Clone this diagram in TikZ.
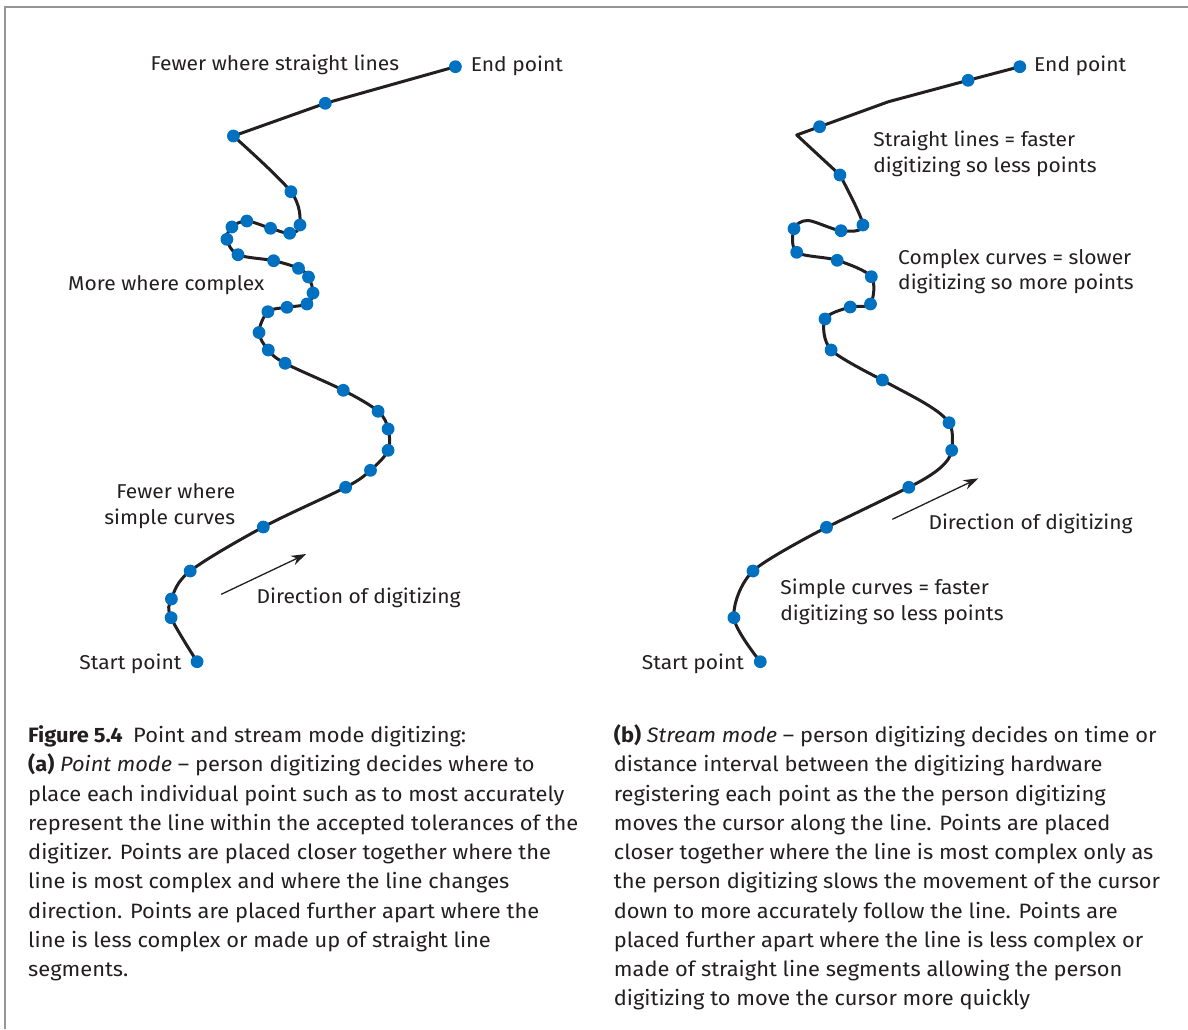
\documentclass[tikz,border=0pt]{standalone}
\usepackage{fontspec}
\setmainfont{Fira Sans}[FakeStretch=1.05]
\usetikzlibrary{arrows.meta}
\definecolor{dotblue}{RGB}{0,112,192}
\definecolor{ink}{RGB}{35,31,32}
\definecolor{frame}{RGB}{150,150,150}
\tikzset{
  curve/.style={draw=ink, line width=3pt, line join=round, line cap=round},
  dirarrow/.style={draw=ink, line width=1.3pt, -{Stealth[length=15pt,width=10pt]}},
  lbl/.style={anchor=base west, inner sep=0pt, text=ink, font=\fontsize{20}{26}\selectfont},
  lblr/.style={anchor=base east, inner sep=0pt, text=ink, font=\fontsize{20}{26}\selectfont},
  capt/.style={anchor=base west, inner sep=0pt, text=ink, font=\fontsize{20.8}{29.25}\selectfont},
}
\newcommand{\dotat}[1]{\fill[dotblue] (#1) circle (6.4pt);}
\begin{document}
\begin{tikzpicture}[x=1pt,y=-1pt]
\useasboundingbox (0,0) rectangle (1188,1029);
% frame
\draw[frame, line width=2pt] (4.5,1029) -- (4.5,6.5) -- (1188,6.5);

% ---- left curve (point mode)
\coordinate (a1) at (197.1,661.7);
\coordinate (a2) at (171.1,617.7);
\coordinate (a3) at (171.4,599);
\coordinate (a4) at (190.2,571);
\coordinate (a5) at (263.3,527);
\coordinate (a6) at (345.6,487.3);
\coordinate (a7) at (370.5,470.3);
\coordinate (a8) at (388.1,450.3);
\coordinate (a9) at (388.1,429);
\coordinate (a10) at (378.1,411.3);
\coordinate (a11) at (343.3,390.3);
\coordinate (a12) at (285.1,363.3);
\coordinate (a13) at (268.3,350);
\coordinate (a14) at (259,332.5);
\coordinate (a15) at (267.9,311.7);
\coordinate (a16) at (287,307.3);
\coordinate (a17) at (306.9,304);
\coordinate (a18) at (313,293);
\coordinate (a19) at (308.5,277);
\coordinate (a20) at (298.5,268.3);
\coordinate (a21) at (273.6,260.7);
\coordinate (a22) at (238,254.7);
\coordinate (a23) at (226.9,239.3);
\coordinate (a24) at (231.9,227);
\coordinate (a25) at (246.8,221);
\coordinate (a26) at (270.6,228.3);
\coordinate (a27) at (289.7,233.3);
\coordinate (a28) at (300,225);
\coordinate (a29) at (290.9,191.7);
\coordinate (a30) at (233.4,136);
\coordinate (a31) at (325.3,103.3);
\coordinate (a32) at (455.4,66.7);

\draw[curve] plot[smooth, tension=0.55] coordinates {(a1) (a2) (a3) (a4) (a5) (a6) (a7) (a8) (a9) (a10) (a11) (a12) (a13) (a14) (a15) (a16) (a17) (a18) (a19) (a20) (a21) (a22) (a23) (a24) (a25) (a26) (a27) (a28) (a29) (a30)} -- (a31) -- (a32);
\foreach \i in {1,...,32} {\dotat{a\i}}

% ---- right curve (stream mode)
\coordinate (b1) at (760.3,661.7);
\coordinate (b2) at (733.9,617.7);
\coordinate (b3) at (753,571);
\coordinate (b4) at (826.5,527.3);
\coordinate (b5) at (908.8,487.3);
\coordinate (b6) at (951.7,450.3);
\coordinate (b7) at (949,422.7);
\coordinate (b8) at (882.4,380);
\coordinate (b9) at (831.1,350);
\coordinate (b10) at (825,319);
\coordinate (b11) at (850.2,307);
\coordinate (b12) at (870.5,304);
\coordinate (b13) at (871.3,276.7);
\coordinate (b14) at (837.2,260.3);
\coordinate (b15) at (796.7,252.3);
\coordinate (b16) at (794,228.7);
\coordinate (h1) at (808,220.5);
\coordinate (b17) at (841,230.7);
\coordinate (b18) at (862.9,225);
\coordinate (b19) at (839.9,175);
\coordinate (k1) at (796.7,135);
\coordinate (b20) at (819.6,126.7);
\coordinate (k2) at (888.5,101.7);
\coordinate (b21) at (968.1,80.3);
\coordinate (b22) at (1019.8,66.7);

\draw[curve] plot[smooth, tension=0.5] coordinates {(b1) (b2) (b3) (b4)}
  .. controls (854,514) and (881,501) .. (b5)
  .. controls (930.8,476.3) and (949.7,464.3) .. (b6)
  .. controls (952.7,441.3) and (953.5,429.7) .. (b7)
  .. controls (939.1,407.8) and (903.9,392.5) .. (b8)
  -- plot[smooth, tension=0.5] coordinates {(b8) (b9) (b10) (b11) (b12) (b13) (b14) (b15) (b16) (h1) (b17) (b18) (b19)}
  -- (k1) -- (b20) -- (k2) -- (b21) -- (b22);
\foreach \i in {1,...,22} {\dotat{b\i}}

% ---- direction arrows
\coordinate (la0) at (221.2,594.3);
\coordinate (la1) at (306.2,554);
\draw[dirarrow] (la0) -- (la1);
\coordinate (ra0) at (892.3,519.3);
\coordinate (ra1) at (978.4,478.3);
\draw[dirarrow] (ra0) -- (ra1);

% ---- left labels
\node[lbl] (lfs) at (150.4,70) {Fewer where straight lines};
\node[lbl] (lend) at (470.7,71.7) {End point};
\node[lbl] (lmore) at (68,290) {More where complex};
\node[lblr] (lfew1) at (235.4,498.3) {Fewer where};
\node[lblr] (lfew2) at (235.4,524) {simple curves};
\node[lbl] (ldir) at (256.4,603.3) {Direction of digitizing};
\node[lbl] (lstart) at (79.2,669.3) {Start point};

% ---- right labels
\node[lbl] (rend) at (1034,71.7) {End point};
\node[lbl] (rsl1) at (873.2,146) {Straight lines = faster};
\node[lbl] (rsl2) at (873.2,172.3) {digitizing so less points};
\node[lbl] (rcc1) at (898,264) {Complex curves = slower};
\node[lbl] (rcc2) at (898,289.3) {digitizing so more points};
\node[lbl] (rdir) at (928.3,529) {Direction of digitizing};
\node[lbl] (rsc1) at (780.2,594.3) {Simple curves = faster};
\node[lbl] (rsc2) at (780.2,620) {digitizing so less points};
\node[lbl] (rstart) at (641.7,669.3) {Start point};

% ---- captions
\node[capt] (capa) at (28,742.7) {\begin{tabular}[t]{@{}l@{}}
\textbf{Figure 5.4}\enspace Point and stream mode digitizing:\\
\textbf{(a)} \textit{Point mode} -- person digitizing decides where to\\
place each individual point such as to most accurately\\
represent the line within the accepted tolerances of the\\
digitizer. Points are placed closer together where the\\
line is most complex and where the line changes\\
direction. Points are placed further apart where the\\
line is less complex or made up of straight line\\
segments.
\end{tabular}};
\node[capt] (capb) at (613.7,742.7) {\begin{tabular}[t]{@{}l@{}}
\textbf{(b)} \textit{Stream mode} -- person digitizing decides on time or\\
distance interval between the digitizing hardware\\
registering each point as the the person digitizing\\
moves the cursor along the line. Points are placed\\
closer together where the line is most complex only as\\
the person digitizing slows the movement of the cursor\\
down to more accurately follow the line. Points are\\
placed further apart where the line is less complex or\\
made of straight line segments allowing the person\\
digitizing to move the cursor more quickly
\end{tabular}};
\end{tikzpicture}
\end{document}
